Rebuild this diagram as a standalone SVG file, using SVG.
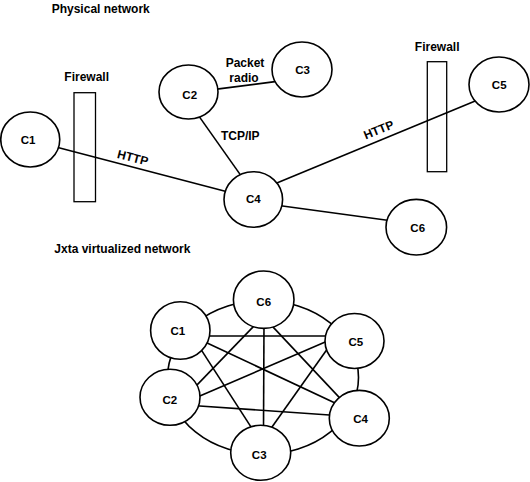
<svg xmlns="http://www.w3.org/2000/svg" width="530" height="482" viewBox="0 0 530 482">
<style>
text{font-family:"Liberation Sans",Arial,Helvetica,sans-serif;font-weight:bold;font-size:12px;fill:#000}
.lbl{text-anchor:middle;font-size:11.5px}
.mid{text-anchor:middle}
.node{fill:#fff;stroke:#000;stroke-width:1.6}
.fw{fill:#fff;stroke:#000;stroke-width:1.3}
.edge{stroke:#000;stroke-width:1.6;fill:none}
</style>
<rect width="530" height="482" fill="#fff"/>
<text x="51.7" y="13">Physical network</text>
<text x="54.3" y="253">Jxta virtualized network</text>

<g id="firewall-left">
<rect class="fw" x="74" y="92.7" width="21.5" height="109"/>
<text class="mid" x="86.7" y="81">Firewall</text>
</g>
<g id="firewall-right">
<rect class="fw" x="427.3" y="61.7" width="19.4" height="110"/>
<text class="mid" x="437.2" y="50.7">Firewall</text>
</g>

<g id="connectors">
<line class="edge" x1="55" y1="146.7" x2="229" y2="192.3"/>
<line class="edge" x1="198" y1="114.9" x2="242.2" y2="177.4"/>
<line class="edge" x1="213" y1="89.6" x2="277" y2="81.4"/>
<line class="edge" x1="274.4" y1="183.9" x2="477.6" y2="100.1"/>
<line class="edge" x1="277" y1="205.3" x2="391" y2="220.7"/>
<text class="mid" transform="translate(132.8,157.5) rotate(14.4)" y="4.2">HTTP</text>
<text class="mid" transform="translate(378.7,129.7) rotate(-22.4)" y="4.2">HTTP</text>
<text class="mid" x="240.3" y="140">TCP/IP</text>
<text class="mid" x="245" y="67">Packet</text>
<text class="mid" x="244" y="81.5">radio</text>

<ellipse class="edge" cx="263" cy="377.5" rx="95.5" ry="77"/>
<line class="edge" x1="205" y1="336" x2="329" y2="336"/>
<line class="edge" x1="203.4" y1="341.3" x2="336.6" y2="403.7"/>
<line class="edge" x1="199.8" y1="347.6" x2="253.2" y2="430.4"/>
<line class="edge" x1="254.8" y1="325.1" x2="194.2" y2="387.9"/>
<line class="edge" x1="264" y1="323" x2="263.5" y2="430"/>
<line class="edge" x1="270.3" y1="324.1" x2="339.7" y2="397.9"/>
<line class="edge" x1="328.7" y1="340.4" x2="196.3" y2="397.6"/>
<line class="edge" x1="330.3" y1="344.7" x2="269.7" y2="430.3"/>
<line class="edge" x1="196" y1="405.7" x2="333" y2="415.3"/>
</g>

<g id="p-C1"><ellipse class="node" cx="30.25" cy="139.5" rx="29.5" ry="27.5"/><text class="lbl" x="28" y="144.3">C1</text></g>
<g id="p-C2"><ellipse class="node" cx="188.5" cy="92" rx="29.5" ry="27"/><text class="lbl" x="189.7" y="99">C2</text></g>
<g id="p-C3"><ellipse class="node" cx="302" cy="69.5" rx="30" ry="27.5"/><text class="lbl" x="302.5" y="74">C3</text></g>
<g id="p-C4"><ellipse class="node" cx="253.3" cy="199.5" rx="29.3" ry="27.8"/><text class="lbl" x="253.3" y="202.7">C4</text></g>
<g id="p-C5"><ellipse class="node" cx="499" cy="84.5" rx="30" ry="27.5"/><text class="lbl" x="499.2" y="89.3">C5</text></g>
<g id="p-C6"><ellipse class="node" cx="416.3" cy="227.2" rx="30.3" ry="27.8"/><text class="lbl" x="417.7" y="231.7">C6</text></g>

<g id="v-C6"><ellipse class="node" cx="263.7" cy="299.7" rx="30.3" ry="28.7"/><text class="lbl" x="263.7" y="305.5">C6</text></g>
<g id="v-C1"><ellipse class="node" cx="180.3" cy="330.5" rx="29.7" ry="28.8"/><text class="lbl" x="177.8" y="335">C1</text></g>
<g id="v-C5"><ellipse class="node" cx="354.5" cy="341" rx="29.5" ry="27.5"/><text class="lbl" x="355.8" y="346">C5</text></g>
<g id="v-C2"><ellipse class="node" cx="170" cy="397.3" rx="30" ry="28"/><text class="lbl" x="169.8" y="404.3">C2</text></g>
<g id="v-C4"><ellipse class="node" cx="359.3" cy="418.2" rx="30" ry="27.8"/><text class="lbl" x="360.5" y="422.7">C4</text></g>
<g id="v-C3"><ellipse class="node" cx="260.7" cy="452.8" rx="30" ry="27.5"/><text class="lbl" x="259.2" y="459.3">C3</text></g>
</svg>
